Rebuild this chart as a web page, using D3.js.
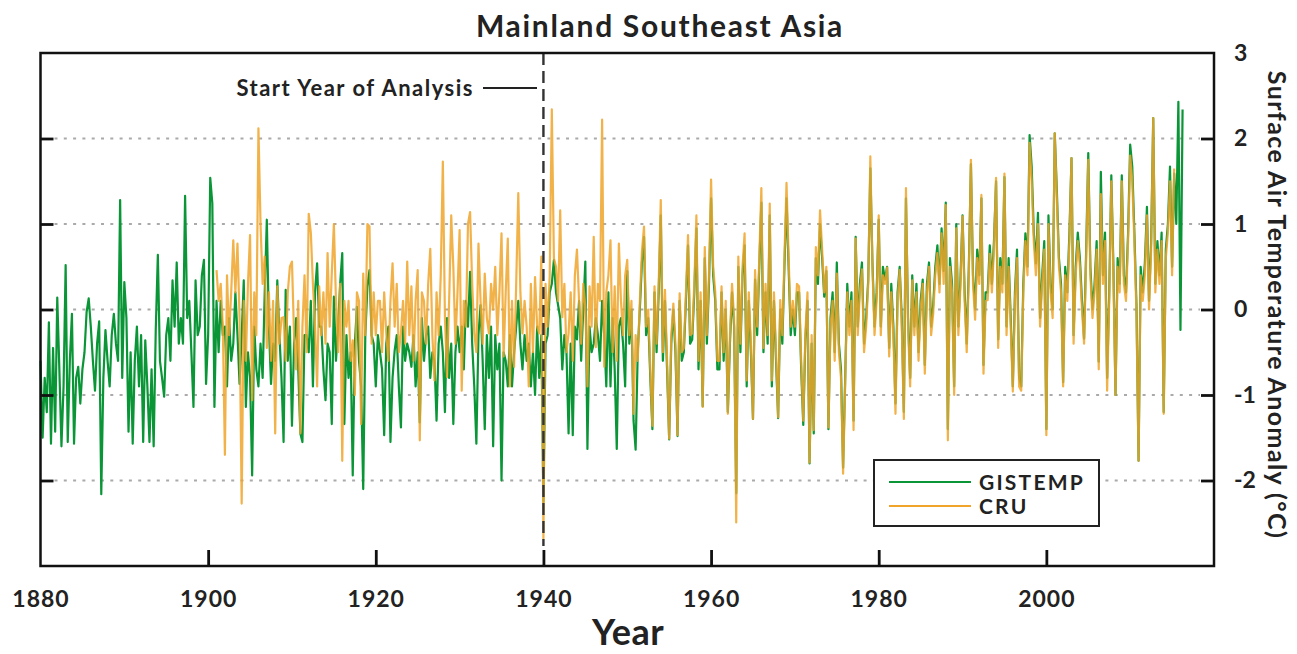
<!DOCTYPE html>
<html>
<head>
<meta charset="utf-8">
<style>
  body { margin: 0; background: #fff; }
  text { font-family: Lato, "DejaVu Sans", sans-serif; font-weight: 700; fill: #222; }
</style>
</head>
<body>
<svg width="1297" height="654"></svg>
<script src="https://cdnjs.cloudflare.com/ajax/libs/d3/7.8.5/d3.min.js"></script>
<script>

// quarterly anomaly values (deg C)
var gisStart = 1880, cruStart = 1901, step = 0.25;

var gistemp = [
  -0.6, -1.5, -0.8, -1.2,   -0.15, -1.57, -0.45, -1.43,
  0.14, -0.7, -1.6, -0.9,   0.52, -1.55, -0.6, -0.05,
  -1.57, -0.8, -0.67, -1.1,  -0.7, -0.5, -0.03, 0.13,
  -0.2, -0.6, -0.95, -0.4,  -0.14, -2.16, -0.8, -0.24,
  -0.6, -0.9, -0.3, -0.05,  -0.4, -0.6, 1.28, -0.8,
  0.32, -0.1, -1.43, -0.5,  -1.57, -0.6, -0.2, -0.9,
  -0.3, -1.55, -0.36, -0.9, -1.55, -0.7, -1.6, -0.24,
  0.64, -0.6, -0.8, -1.02,  -0.3, -0.1, -0.6, 0.34,
  -0.2, 0.55, -0.4, -0.1,   -0.4, 1.33, -0.1, 0.1,
  -0.5, -1.14, 0.34, -0.3,  -0.2, 0.4, 0.58, -0.87,
  -0.3, 1.54, 1.24, -1.14,  0.1, -0.5, 0.1, -0.3,
  -0.2, -0.9, -0.1, -0.6,   -0.4, 0.2, -0.3, -0.87,
  -0.3, 0.34, -1.14, -0.5,  -0.8, -1.94, -0.2, -0.7,
  -0.9, -0.4, -0.8, 0.2,    1.05, -0.2, -0.87, -0.4,
  -0.6, 0.34, -0.3, -0.8,   -1.55, 0.23, -0.6, -0.2,
  -1.36, -0.4, -0.1, -0.7,  -1.45, -1.55, -0.3, -0.3,
  -0.5, 0.1, -0.9, 0.2,     0.54, -0.2, -0.2, -0.7,
  -1.06, -0.4, -0.5, -1.34, 0.15, -0.6, -0.2, 0.3,
  0.66, -1.34, -0.3, -0.8,  -0.5, -1.94, -0.4, 0.03,
  -0.6, -0.9, -2.1, -0.3,   0.27, 0.46, -0.3, -0.4,
  -0.9, -0.3, -0.5, -0.7,   -1.47, -0.4, -0.2, -1.55,
  -0.8, -0.48, -0.3, -0.9,  -1.38, -0.2, -0.6, -0.4,
  -0.5, -0.67, -0.3, -0.9,  -0.5, -1.32, -0.1, -0.6,
  -0.3, -0.2, -0.8, -0.5,   -0.6, -1.3, -0.4, -0.2,
  -0.5, -1.2, -0.1, -0.8,   -0.4, -1.34, -0.5, -0.2,
  -0.5, -0.2, -0.7, 0.1,    -0.2, 0.44, -0.4, -0.9,
  -1.57, -0.3, 0.05, -0.6,  -1.4, -0.3, -0.8, -0.2,
  -1.6, -0.3, -0.7, -0.4,   -2.0, -0.5, -0.6, -0.9,
  -0.3, -0.9, -0.5, -0.2,   0.1, -0.4, -0.7, -0.3,
  -0.6, -0.4, -0.9, -0.5,   -1.0, -0.2, -0.8, -0.3,
  -2.25, -0.4, -0.3, 0.2,   0.3, 0.58, 0.2, 0.05,
  -0.1, -0.7, -0.3, -0.5,   -1.45, -0.4, -1.47, -0.2,
  -0.35, 0.1, -0.6, 0.0,    0.56, -1.63, -0.2, -0.5,
  -0.4, -0.1, -0.3, -0.6,   0.1, -0.3, -0.9, 0.2,
  -0.9, -0.1, -0.7, -1.63,  -0.2, -0.1, -0.4, -0.9,
  0.45, -0.4, 0.0, -1.3,    -1.64, -0.5, 0.0, 0.55,
  0.85, -0.3, -0.1, -0.8,   -1.4, 0.2, -0.5, 0.2,
  1.1, -0.6, 0.1, -0.7,     -1.52, -0.4, 0.0, -0.5,
  -1.48, 0.1, -0.6, -0.5,   0.1, 0.75, -0.4, -0.35,
  0.2, 0.95, -0.7, 0.1,     -1.13, 0.6, -0.4, 0.3,
  1.3, 0.4, 0.1, -0.7,      -0.7, 0.2, -0.6, 0.0,
  -1.2, -0.4, 0.2, -0.2,    -2.15, 0.5, -0.5, 0.4,
  0.75, -0.9, 0.1, -0.5,    -1.28, 0.35, -0.3, 0.5,
  1.25, -0.5, 0.2, -0.4,    1.1, -0.9, 0.1, -0.6,
  -1.27, 0.0, -0.4, 0.5,    1.3, 0.5, -0.3, 0.0,
  -0.3, 0.2, 0.2, -0.7,     -1.35, -0.35, 0.1, -1.8,
  -0.4, -1.45, 0.6, 0.3,    1.0, 0.6, 0.15, 0.45,
  -1.4, -0.1, 0.2, -0.5,    0.55, -0.4, -0.7, -1.85,
  -0.8, 0.3, -0.2, 0.2,     -1.3, 0.85, -0.2, 0.3,
  0.55, -0.4, -0.1, 0.35,   1.65, 0.55, -0.2, 0.2,
  1.05, -0.2, 0.5, 0.35,    0.5, -0.45, 0.3, -0.2,
  -1.1, 0.2, 0.5, -0.1,     -1.2, 1.3, -0.1, -0.8,
  0.4, -0.2, 0.3, -0.5,     0.1, 0.35, -0.65, 0.3,
  0.55, -0.2, 0.05, 0.5,    0.75, 0.3, 0.95, 0.45,
  1.25, -1.4, 0.6, 0.3,     -0.9, 1.0, -0.2, 0.35,
  1.1, 0.2, -0.4, 0.5,      1.7, 0.4, 0.0, 0.7,
  0.4, 1.3, -0.65, 0.2,     0.2, 0.75, 0.3, 0.8,
  1.5, -0.35, 0.6, 0.3,     1.55, -0.2, 0.6, -0.1,
  -0.9, 0.2, 0.7, -0.8,     -0.9, 0.3, 0.89, 0.5,
  2.04, 1.67, 0.9, 0.54,    1.13, -0.1, 0.4, 0.8,
  -1.4, 1.1, 0.3, 0.0,      2.06, 1.4, 0.6, 0.3,
  -0.85, 0.5, 0.2, 0.9,     1.77, -0.3, 0.5, 0.9,
  0.6, 0.1, -0.34, 0.7,     1.83, 0.5, 0.0, 0.3,
  0.8, -0.61, 1.61, 0.4,    0.9, -0.8, 0.2, 1.57,
  0.5, -1.0, 0.6, 0.3,      1.57, 0.4, 0.2, 0.89,
  1.93, 1.67, 0.9, 0.05,    -1.77, 0.5, 0.2, 0.54,
  1.2, 0.1, 0.8, 2.24,      0.3, 0.8, 0.4, 0.9,
  -1.2, 0.7, 1.0, 1.67,     0.5, 1.59, 1.0, 2.43,
  -0.24, 2.34
];

var cru = [
  0.46, 0.1, 0.3, -0.2,     -1.7, 0.4, -0.3, 0.2,
  0.81, 0.2, 0.77, -0.1,    -2.27, 0.1, -0.6, 0.3,
  0.87, -1.06, 0.2, -0.3,   2.12, 1.0, 0.3, 0.62,
  -0.45, 0.2, -0.6, 0.1,    -1.45, 0.27, -0.4, -0.1,
  -0.09, -0.6, 0.2, 0.5,    0.56, -0.3, -0.7, 0.1,
  -1.45, -0.2, 0.4, -0.5,   1.12, 0.9, 0.3, -0.2,
  -0.9, 0.27, -0.3, 0.2,    -0.4, 0.66, -0.2, 0.42,
  1.0, 0.1, -0.5, 0.3,      -1.77, 0.1, -0.2, 0.1,
  -0.6, -0.36, -1.0, 0.2,   0.1, -1.34, 0.42, -0.3,
  1.0, 0.97, -0.4, 0.2,     -0.3, 0.1, 0.1, -0.5,
  0.2, -0.28, -0.6, 0.1,    0.54, -0.2, 0.3, -0.5,
  -0.28, 0.1, -0.4, 0.56,   -0.3, 0.27, -0.6, 0.1,
  0.46, -1.53, 0.2, 0.1,    -0.4, 0.3, 0.71, -0.3,
  -0.83, 0.2, -0.3, 0.4,    1.73, -0.09, -0.79, 0.1,
  1.1, 0.5, -0.4, 0.2,      0.93, -0.95, 0.1, -0.2,
  1.0, 1.14, 0.3, -0.28,    -0.5, 0.77, 0.1, -0.4,
  0.42, -0.1, -0.28, 0.3,   0.0, 0.5, -0.3, 0.2,
  0.89, -0.55, 0.2, 0.83,   -0.9, 0.1, -0.67, 0.3,
  1.36, 0.2, -0.28, 0.1,    -0.2, -0.9, 0.3, -0.5,
  0.38, -0.2, -0.28, 0.62,  -2.68, 0.3, -0.2, 0.4,
  2.34, 0.6, 0.5, 0.1,      1.16, -0.09, 0.3, -0.5,
  -0.28, 0.2, -0.6, 0.4,    0.7, 0.1, -0.4, 0.3,
  0.03, -0.9, 0.27, -0.2,   0.85, -0.44, 0.3, 0.1,
  2.22, -0.67, 0.2, 0.4,    0.81, -0.5, 0.27, -0.6,
  0.77, 0.1, -0.3, 0.4,     0.58, -0.3, 0.1, -1.22,
  -0.3, -0.6, 0.1, 0.68,    0.97, -0.2, 0.0, -0.7,
  -1.36, 0.27, -0.4, 0.3,   1.28, -0.5, 0.23, -0.6,
  -1.51, -0.3, 0.07, -0.4,  -1.47, 0.19, -0.5, -0.45,
  0.2, 0.87, -0.3, -0.28,   0.3, 1.1, -0.6, 0.2,
  -1.14, 0.73, -0.3, 0.4,   1.52, 0.5, 0.2, -0.6,
  -0.6, 0.27, -0.5, 0.1,    -1.22, -0.3, 0.3, -0.1,
  -2.49, 0.62, -0.4, 0.5,   0.89, -0.83, 0.2, -0.4,
  -1.28, 0.46, -0.2, 0.6,   1.42, -0.45, 0.3, -0.3,
  1.24, -0.83, 0.2, -0.5,   -1.26, 0.11, -0.3, 0.6,
  1.48, 0.62, -0.2, 0.1,    -0.2, 0.3, 0.27, -0.6,
  -1.3, -0.28, 0.2, -1.79,  -0.3, -1.41, 0.73, 0.4,
  1.16, 0.7, 0.2, 0.5,      -1.38, -0.2, 0.1, -0.6,
  0.42, -0.5, -0.8, -1.92,  -0.86, 0.2, -0.3, 0.1,
  -1.41, 0.83, -0.3, 0.2,   0.47, -0.5, -0.2, 0.3,
  1.79, 0.5, -0.3, 0.1,     1.1, -0.3, 0.4, 0.3,
  0.49, -0.55, 0.2, -0.3,   -1.22, 0.1, 0.46, -0.2,
  -1.28, 1.42, -0.2, -0.9,  0.34, -0.3, 0.2, -0.6,
  0.0, 0.3, -0.75, 0.2,     0.5, -0.3, -0.05, 0.4,
  0.66, 0.2, 0.89, 0.3,     1.22, -1.53, 0.5, 0.2,
  -1.0, 0.95, -0.3, 0.27,   1.09, 0.1, -0.5, 0.4,
  1.75, 0.3, -0.12, 0.6,    0.3, 1.34, -0.75, 0.1,
  0.11, 0.65, 0.2, 0.7,     1.54, -0.45, 0.5, 0.2,
  1.59, -0.3, 0.5, -0.2,    -0.96, 0.11, 0.6, -0.9,
  -0.95, 0.2, 0.8, 0.4,     1.95, 1.5, 0.8, 0.4,
  1.0, -0.2, 0.3, 0.7,      -1.47, 1.0, 0.2, -0.1,
  2.06, 1.3, 0.5, 0.2,      -0.9, 0.4, 0.1, 0.8,
  1.77, -0.4, 0.4, 0.8,     0.5, 0.0, -0.4, 0.6,
  1.75, 0.4, -0.1, 0.2,     0.7, -0.7, 1.35, 0.3,
  0.8, -0.95, 0.1, 1.5,     0.4, -1.0, 0.5, 0.2,
  1.5, 0.3, 0.1, 0.8,       1.8, 1.5, 0.8, -0.05,
  -1.77, 0.4, 0.1, 0.4,     1.1, 0.0, 0.7, 2.24,
  0.2, 0.7, 0.3, 0.8,       -1.22, 0.6, 0.9, 1.5,
  0.4, 1.65
];

var xTicks = [1880, 1900, 1920, 1940, 1960, 1980, 2000];
var yTicks = [-2, -1, 0, 1, 2, 3];
var startYear = 1940;

var svg = d3.select("svg"),
    plotL = 40.5, plotR = 1214, plotT = 53, plotB = 566;

var x = d3.scaleLinear().domain([1880, 2020]).range([plotL, plotR]);
var y = d3.scaleLinear().domain([-3, 3]).range([plotB, plotT]);

// grid
svg.append("g")
  .selectAll("line")
  .data(yTicks.filter(function(d) { return d > -3 && d < 3; }))
  .enter().append("line")
  .attr("x1", plotL + 14).attr("x2", plotR - 14)
  .attr("y1", function(d) { return y(d); })
  .attr("y2", function(d) { return y(d); })
  .attr("stroke", "#aaa")
  .attr("stroke-width", 2.2)
  .attr("stroke-dasharray", "3 6.3");

var line = d3.line()
  .x(function(d) { return x(d[0]); })
  .y(function(d) { return y(d[1]); });

var gisData = gistemp.map(function(v, i) { return [gisStart + i * step, v]; });
var cruData = cru.map(function(v, i) { return [cruStart + i * step, v]; });

svg.append("path")
  .datum(gisData)
  .attr("d", line)
  .attr("fill", "none")
  .attr("stroke", "#0a9637")
  .attr("stroke-width", 2.2)
  .attr("stroke-linejoin", "round");

svg.append("path")
  .datum(cruData)
  .attr("d", line)
  .attr("fill", "none")
  .attr("stroke", "#f0a52a")
  .attr("stroke-opacity", 0.85)
  .attr("stroke-width", 2.2)
  .attr("stroke-linejoin", "round");

// start year marker
svg.append("line")
  .attr("x1", x(startYear)).attr("x2", x(startYear))
  .attr("y1", plotT).attr("y2", 546)
  .attr("stroke", "#333")
  .attr("stroke-width", 2.4)
  .attr("stroke-dasharray", "12 6");

svg.append("line")
  .attr("x1", 483).attr("x2", 537)
  .attr("y1", 88).attr("y2", 88)
  .attr("stroke", "#222")
  .attr("stroke-width", 2);

svg.append("text")
  .attr("x", 474).attr("y", 96)
  .attr("text-anchor", "end")
  .attr("font-size", 22)
  .attr("letter-spacing", 1.5)
  .text("Start Year of Analysis");

// frame
svg.append("rect")
  .attr("x", plotL).attr("y", plotT)
  .attr("width", plotR - plotL).attr("height", plotB - plotT)
  .attr("fill", "none")
  .attr("stroke", "#111")
  .attr("stroke-width", 2.5);

// axes: ticks inward
var xAxis = svg.append("g")
  .attr("transform", "translate(0," + plotB + ")")
  .call(d3.axisBottom(x).tickValues(xTicks).tickFormat(d3.format("d"))
    .tickSizeInner(-16).tickSizeOuter(0).tickPadding(25));
xAxis.select(".domain").remove();
xAxis.selectAll(".tick line").attr("stroke", "#111").attr("stroke-width", 2.8)
  .attr("display", function(d) { return d === 1880 ? "none" : null; });
xAxis.selectAll("text").attr("font-size", 23).attr("font-family", null)
  .attr("fill", "#222").attr("letter-spacing", 1);

var yAxisR = svg.append("g")
  .attr("transform", "translate(" + plotR + ",0)")
  .call(d3.axisRight(y).tickValues(yTicks).tickFormat(function(d) { return d < 0 ? "-" + Math.abs(d) : d; })
    .tickSizeInner(-13).tickSizeOuter(0).tickPadding(20));
yAxisR.select(".domain").remove();
yAxisR.selectAll(".tick line").attr("stroke", "#111").attr("stroke-width", 2.8)
  .attr("display", function(d) { return d === 3 ? "none" : null; });
yAxisR.selectAll("text").attr("font-size", 23).attr("font-family", null).attr("fill", "#222");

var yAxisL = svg.append("g")
  .attr("transform", "translate(" + plotL + ",0)")
  .call(d3.axisLeft(y).tickValues(yTicks.filter(function(d) { return d < 3; }))
    .tickFormat("").tickSizeInner(-13).tickSizeOuter(0));
yAxisL.select(".domain").remove();
yAxisL.selectAll(".tick line").attr("stroke", "#111").attr("stroke-width", 2.8);

// titles
svg.append("text")
  .attr("x", 660).attr("y", 37)
  .attr("text-anchor", "middle")
  .attr("font-size", 30)
  .attr("letter-spacing", 1.7)
  .text("Mainland Southeast Asia");

svg.append("text")
  .attr("x", 628).attr("y", 645)
  .attr("text-anchor", "middle")
  .attr("font-size", 36)
  .attr("letter-spacing", 0.5)
  .text("Year");

svg.append("text")
  .attr("transform", "translate(1268,305) rotate(90)")
  .attr("text-anchor", "middle")
  .attr("font-size", 25)
  .attr("letter-spacing", 1.4)
  .text("Surface Air Temperature Anomaly (°C)");

// legend
var legend = svg.append("g");
legend.append("rect")
  .attr("x", 874).attr("y", 460)
  .attr("width", 225).attr("height", 66)
  .attr("fill", "#fff")
  .attr("stroke", "#222")
  .attr("stroke-width", 2);

var keys = [["GISTEMP", "#0a9637"], ["CRU", "#f0a52a"]];
keys.forEach(function(k, i) {
  legend.append("line")
    .attr("x1", 889).attr("x2", 971)
    .attr("y1", 482 + i * 24).attr("y2", 482 + i * 24)
    .attr("stroke", k[1]).attr("stroke-width", 2.2);
  legend.append("text")
    .attr("x", 979).attr("y", 490 + i * 24)
    .attr("font-size", 21)
    .attr("letter-spacing", 2.2)
    .text(k[0]);
});

</script>
</body>
</html>
